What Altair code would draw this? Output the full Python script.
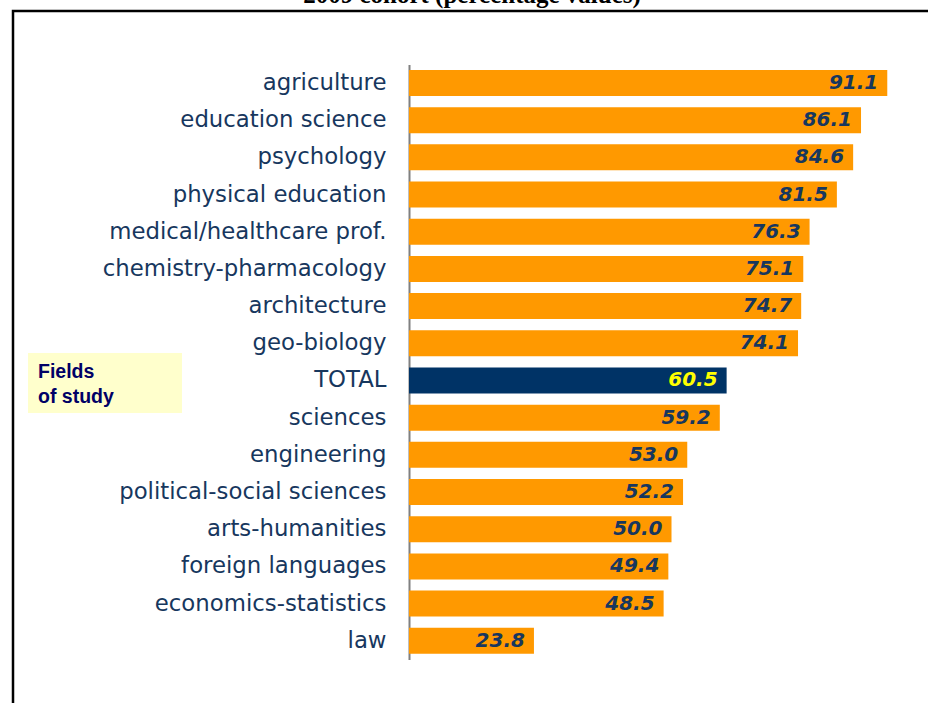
import altair as alt
import pandas as pd

fields = ["agriculture", "education science", "psychology", "physical education",
          "medical/healthcare prof.", "chemistry-pharmacology", "architecture",
          "geo-biology", "TOTAL", "sciences", "engineering",
          "political-social sciences", "arts-humanities", "foreign languages",
          "economics-statistics", "law"]
values = [91.1, 86.1, 84.6, 81.5, 76.3, 75.1, 74.7, 74.1, 60.5, 59.2, 53.0,
          52.2, 50.0, 49.4, 48.5, 23.8]
is_total = [f == "TOTAL" for f in fields]

title_text = "2009 cohort (percentage values)"
box_lines = ["Fields", "of study"]

df = pd.DataFrame({"field": fields, "value": values, "total": is_total,
                   "label": [f"{v:.1f}" for v in values]})

W = 514.5
H = 595
LEFT = 409
TOP = 64.4

y_enc = alt.Y("field:N", sort=fields, title=None,
              scale=alt.Scale(paddingInner=0.3, paddingOuter=0.15),
              axis=alt.Axis(labelFont="DejaVu Sans", labelFontSize=22.8,
                            labelColor="#17375E", labelPadding=23, ticks=False,
                            tickSize=0, labelLimit=500, domainColor="#808080",
                            domainWidth=2, grid=False))
x_enc = alt.X("value:Q", scale=alt.Scale(domain=[0, 98], nice=False, zero=True),
              axis=None)

base = alt.Chart(df)

bars = base.mark_bar(size=26).encode(
    x=x_enc, y=y_enc,
    color=alt.condition("datum.total", alt.value("#003366"), alt.value("#FF9900")),
)

labels = base.mark_text(align="right", baseline="middle", dx=-9, font="DejaVu Sans",
                        fontSize=20, fontStyle="italic", fontWeight="bold").encode(
    x=x_enc, y=alt.Y("field:N", sort=fields),
    text="label:N",
    color=alt.condition("datum.total", alt.value("#FFFF00"), alt.value("#17375E")),
)

one = alt.Chart(pd.DataFrame({"a": [0]}))

frame = one.mark_rect(filled=False, stroke="black", strokeWidth=2.5).encode(
    x=alt.value(13 - LEFT), x2=alt.value(950 - LEFT),
    y=alt.value(11 - TOP), y2=alt.value(730 - TOP),
)

title = one.mark_text(align="center", baseline="alphabetic", font="Liberation Serif",
                      fontSize=25, fontWeight="bold", color="black").encode(
    x=alt.value(472 - LEFT), y=alt.value(3 - TOP), text=alt.value(title_text),
)

box = one.mark_rect(fill="#FFFFCC").encode(
    x=alt.value(28 - LEFT), x2=alt.value(182 - LEFT),
    y=alt.value(353 - TOP), y2=alt.value(413 - TOP),
)

box_text1 = one.mark_text(align="left", baseline="alphabetic", font="Liberation Sans",
                          fontSize=19.5, fontWeight="bold", color="#000066").encode(
    x=alt.value(38 - LEFT), y=alt.value(378 - TOP), text=alt.value(box_lines[0]),
)
box_text2 = one.mark_text(align="left", baseline="alphabetic", font="Liberation Sans",
                          fontSize=19.5, fontWeight="bold", color="#000066").encode(
    x=alt.value(38 - LEFT), y=alt.value(403 - TOP), text=alt.value(box_lines[1]),
)

chart = alt.layer(frame, title, box, box_text1, box_text2, bars, labels).properties(
    width=W, height=H,
    autosize=alt.AutoSizeParams(type="none"),
    padding={"left": LEFT, "top": TOP, "right": 928 - LEFT - W, "bottom": 703 - TOP - H},
).configure(background="white").configure_view(strokeWidth=0, stroke="transparent")

chart.save("out.html", embed_options={"renderer": "svg", "actions": False})
